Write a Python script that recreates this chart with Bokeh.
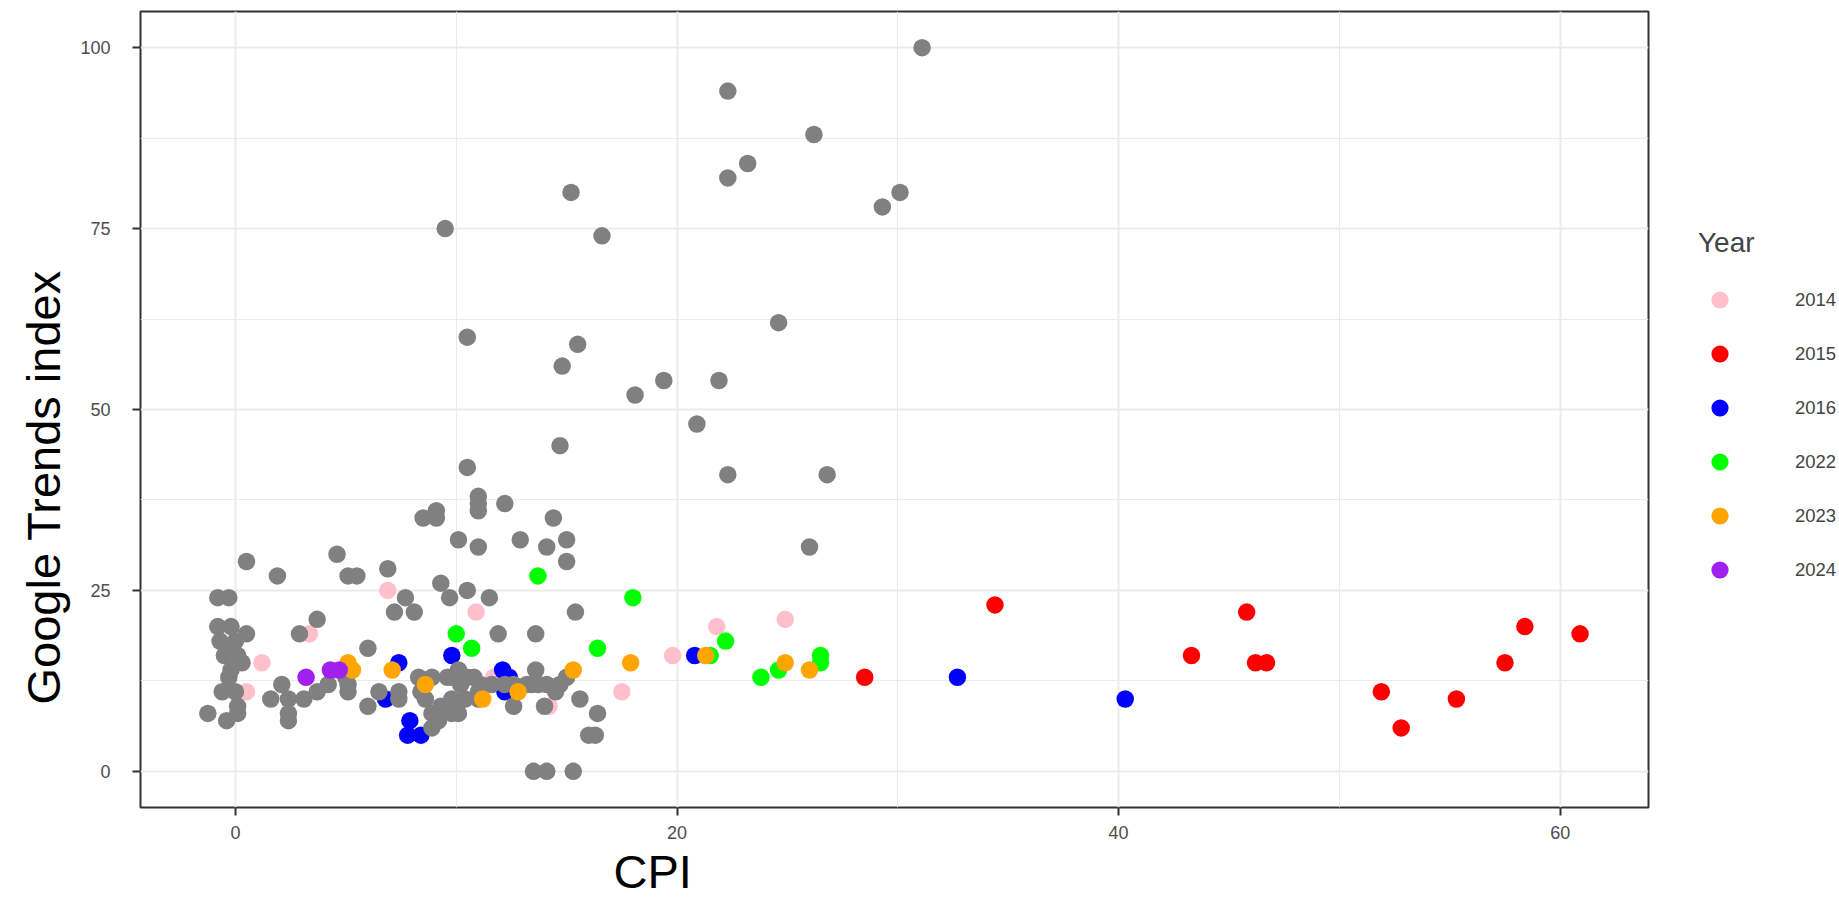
from bokeh.plotting import figure
from bokeh.layouts import row
from bokeh.models import Range1d, FixedTicker, Legend, LegendItem, Title
from bokeh.embed import file_html
from bokeh.resources import INLINE

# ---- data (CPI, Google Trends index) ----
cpi_2014 = [6.9, 10.9, 3.35, 1.2, 0.5, 17.5, 11.7, 14.2, 19.8, 21.8, 24.9]
gti_2014 = [25, 22, 19, 15, 11, 11, 13, 9, 16, 20, 21]

cpi_2015 = [28.5, 34.4, 43.3, 45.8, 46.2, 46.7, 51.9, 52.8, 55.3, 57.5, 58.4, 60.9]
gti_2015 = [13, 23, 16, 22, 15, 15, 11, 6, 10, 15, 20, 19]

cpi_2016 = [7.4, 6.8, 7.9, 7.8, 8.4, 9.8, 12.1, 12.4, 12.2, 20.8, 32.7, 40.3]
gti_2016 = [15, 10, 7, 5, 5, 16, 14, 13, 11, 16, 13, 10]

cpi_other = [31.1, 22.3, 26.2, 23.2, 22.3, 15.2, 30.1, 29.3, 9.5, 16.6, 24.6, 10.5,
             15.5, 14.8, 19.4, 21.9, 18.1, 20.9, 14.7, 10.5, 22.3, 26.8,
             11.0, 12.2, 11.0, 11.0, 9.1, 8.5, 9.1, 14.4, 10.1, 12.9, 15.0, 11.0,
             14.1, 26.0, 4.6, 0.5, 15.0, 6.9, 1.9, 5.1, 5.5, 9.3, 10.5,
             -0.8, -0.3, 7.7, 9.7, 11.5, 7.2, 8.1, 15.4, 3.7, 11.9, 13.6, 2.9, 6.0,
             -0.8, -0.2, 0.5, -0.7, 0.0, -0.3, 0.1, -0.5, 0.3, -0.2, -0.3, -0.6,
             0.0, 0.1, -1.25, 0.1, -0.4,
             2.1, 1.6, 2.4, 2.4, 2.4, 3.1, 3.7, 4.2, 5.0, 5.1, 5.1, 6.0, 6.5, 7.4, 7.4,
             8.3, 8.9, 8.4, 8.6, 8.9, 8.9, 9.2, 9.3, 9.6, 9.8, 9.8, 9.8, 10.1, 10.1,
             10.2, 10.5, 10.8, 10.4, 11.0, 11.0, 11.1, 11.6, 12.2, 12.6, 12.6, 13.2,
             13.4, 13.6, 13.7, 14.0, 14.1, 14.5, 14.7, 15.0, 15.6, 16.4, 16.0, 16.3,
             13.5, 14.1, 15.3]
gti_other = [100, 94, 88, 84, 82, 80, 80, 78, 75, 74, 62, 60,
             59, 56, 54, 54, 52, 48, 45, 42, 41, 41,
             38, 37, 37, 36, 36, 35, 35, 35, 32, 32, 32, 31,
             31, 31, 30, 29, 29, 28, 27, 27, 27, 26, 25,
             24, 24, 24, 24, 24, 22, 22, 22, 21, 19, 19, 19, 17,
             20, 20, 19, 18, 18, 17, 16, 16, 15, 14, 13, 11,
             11, 9, 8, 8, 7,
             12, 10, 10, 8, 7, 10, 11, 12, 13, 12, 11, 9, 11, 11, 10,
             13, 13, 11, 10, 8, 6, 7, 9, 13, 13, 10, 8, 8, 14,
             12, 13, 13, 10, 11, 10, 12, 12, 12, 9, 12, 12,
             12, 14, 12, 9, 12, 11, 12, 13, 10, 8, 5, 5,
             0, 0, 0]

cpi_2022 = [10.0, 10.7, 13.7, 16.4, 18.0, 21.5, 22.2, 23.8, 24.6, 26.5, 26.5]
gti_2022 = [19, 17, 27, 17, 24, 16, 18, 13, 14, 16, 15]

cpi_2023 = [5.1, 5.3, 7.1, 8.6, 11.2, 12.8, 15.3, 17.9, 21.3, 24.9, 26.0]
gti_2023 = [15, 14, 14, 12, 10, 11, 14, 15, 16, 15, 14]

cpi_2024 = [3.2, 4.3, 4.7]
gti_2024 = [13, 14, 14]

years = ["2014", "2015", "2016", "2022", "2023", "2024"]
year_colors = ["#FFC0CB", "#FF0000", "#0000FF", "#00FF00", "#FFA500", "#A020F0"]
other_color = "#808080"
year_cpi = [cpi_2014, cpi_2015, cpi_2016, cpi_2022, cpi_2023, cpi_2024]
year_gti = [gti_2014, gti_2015, gti_2016, gti_2022, gti_2023, gti_2024]

FONT = "Liberation Sans"
S = 17.5

# ---------------- main panel ----------------
p = figure(width=1652, height=908,
           x_range=Range1d(-4.3, 64.0), y_range=Range1d(-5, 105),
           output_backend="svg", toolbar_location=None,
           min_border_left=140, min_border_right=4,
           min_border_top=11, min_border_bottom=101)

p.background_fill_color = "white"
p.border_fill_color = "white"
p.outline_line_color = "#333333"
p.outline_line_width = 2

p.xaxis.ticker = FixedTicker(ticks=[0, 20, 40, 60], minor_ticks=[10, 30, 50])
p.yaxis.ticker = FixedTicker(ticks=[0, 25, 50, 75, 100],
                             minor_ticks=[12.5, 37.5, 62.5, 87.5])
for g in (p.xgrid, p.ygrid):
    g.grid_line_color = "#EBEBEB"
    g.grid_line_width = 2
    g.minor_grid_line_color = "#EBEBEB"
    g.minor_grid_line_width = 1

for ax in (p.xaxis, p.yaxis):
    ax.axis_line_color = None
    ax.minor_tick_line_color = None
    ax.major_tick_in = 0
    ax.major_tick_out = 8
    ax.major_tick_line_color = "#333333"
    ax.major_tick_line_width = 2
    ax.major_label_text_font = FONT
    ax.major_label_text_font_size = "18px"
    ax.major_label_text_color = "#4D4D4D"
p.xaxis.major_label_standoff = 10
p.yaxis.major_label_standoff = 22

# axis titles (placed off-centre, as in the reference)
xt = Title(text="CPI", align="left", offset=473, standoff=6,
           vertical_align="top", text_font=FONT, text_font_size="47px",
           text_font_style="normal", text_color="black")
p.add_layout(xt, "below")
yt = Title(text="Google Trends index", align="left", offset=103, standoff=16,
           text_font=FONT, text_font_size="47px",
           text_font_style="normal", text_color="black")
p.add_layout(yt, "left")

r14 = p.scatter(cpi_2014, gti_2014, size=S, color=year_colors[0], line_color=None)
r15 = p.scatter(cpi_2015, gti_2015, size=S, color=year_colors[1], line_color=None)
r16 = p.scatter(cpi_2016, gti_2016, size=S, color=year_colors[2], line_color=None)
p.scatter(cpi_other, gti_other, size=S, color=other_color, line_color=None)
r22 = p.scatter(cpi_2022, gti_2022, size=S, color=year_colors[3], line_color=None)
r23 = p.scatter(cpi_2023, gti_2023, size=S, color=year_colors[4], line_color=None)
r24 = p.scatter(cpi_2024, gti_2024, size=S, color=year_colors[5], line_color=None)

# ---------------- legend panel ----------------
# (its ranges lie far from the data, so only the legend itself is visible)
pl = figure(width=187, height=908, x_range=Range1d(1000, 1001),
            y_range=Range1d(1000, 1001),
            output_backend="svg", toolbar_location=None, min_border=0,
            x_axis_type=None, y_axis_type=None)
pl.outline_line_color = None
pl.background_fill_color = "white"
pl.border_fill_color = "white"
pl.xgrid.visible = False
pl.ygrid.visible = False

items = []
for yr, col, xs, ys in zip(years, year_colors, year_cpi, year_gti):
    rr = pl.scatter(xs, ys, size=S, color=col, line_color=None)
    items.append(LegendItem(label=yr, renderers=[rr]))

legend = Legend(items=items, location=(46, 214))
legend.title = "Year"
legend.title_text_font = FONT
legend.title_text_font_size = "28px"
legend.title_text_font_style = "normal"
legend.title_standoff = 17
legend.label_text_font = FONT
legend.label_text_font_size = "18.5px"
legend.glyph_width = 43
legend.glyph_height = 47
legend.spacing = 7
legend.label_standoff = 54
legend.padding = 10
legend.margin = 0
legend.border_line_color = None
legend.background_fill_alpha = 0
pl.add_layout(legend)

layout = row(p, pl)
open("out.html", "w").write(file_html(layout, INLINE))
